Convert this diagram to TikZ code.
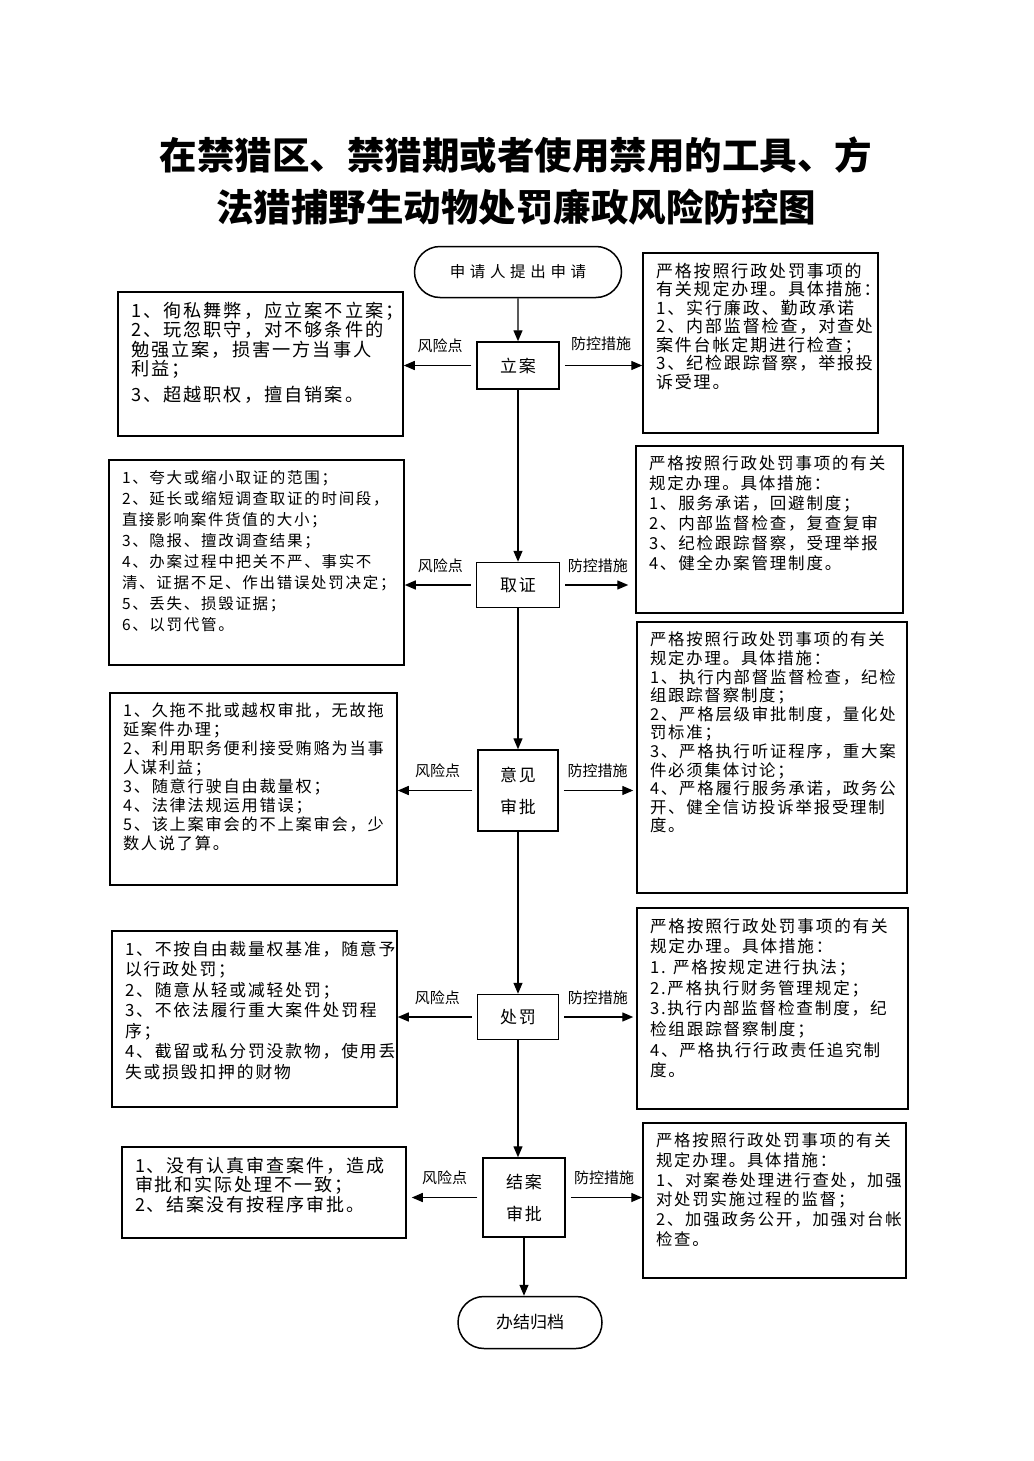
\documentclass[tikz,border=0pt]{standalone}
\usepackage{fontspec}
\newfontfamily\cjk{Noto Sans CJK SC}
\newfontfamily\cjkls[LetterSpace=11]{Noto Sans CJK SC}
\newfontfamily\cjkwide[LetterSpace=30]{Noto Sans CJK SC}
\usetikzlibrary{shapes.misc, arrows.meta, positioning}
\newcommand{\boxtext}[3]{\parbox[t][#2][t]{#1}{#3}}

\begin{document}
\begin{tikzpicture}[x=1pt, y=-1pt, >={Triangle[length=11pt,width=9pt]},
  flowbox/.style={draw, line width=1.5pt, inner sep=0pt, align=center, font=\cjkls\fontsize{17}{32}\selectfont},
  terminal/.style={flowbox, rounded rectangle},
  sidebox/.style={draw, line width=1.5pt, inner xsep=13pt, inner ysep=10pt, font=\cjkls},
  link/.style={->, line width=1.4pt},
  tag/.style={inner sep=0pt, font=\cjk\fontsize{15}{15}\selectfont}]
\useasboundingbox (0,0) rectangle (1033,1461);

% title
\node [align=center, font=\cjk\bfseries\fontsize{37.5}{52}\selectfont] (title) at (516,181)
  {在禁猎区、禁猎期或者使用禁用的工具、方\\法猎捕野生动物处罚廉政风险防控图};

% main flow
\node [terminal, minimum width=207, minimum height=51, font=\cjkwide\fontsize{15.5}{20}\selectfont] (start) at (518,272) {申请人提出申请};
\node [flowbox, minimum width=82, minimum height=47, below=43pt of start] (lian) {立案};
\node [flowbox, minimum width=83, minimum height=45, below=172pt of lian] (quzheng) {取证};
\node [flowbox, minimum width=80, minimum height=81, below=141pt of quzheng] (yijian) {意见\\审批};
\node [flowbox, minimum width=81, minimum height=45, below=162pt of yijian] (chufa) {处罚};
\node [flowbox, minimum width=82, minimum height=79, below=117pt of chufa, xshift=6pt] (jiean) {结案\\审批};
\node [terminal, minimum width=144, minimum height=52, below=58pt of jiean, xshift=6pt, font=\cjk\fontsize{17}{20}\selectfont] (archive) {办结归档};

\draw [link] (start) -- (lian);
\draw [link] (lian) -- (quzheng);
\draw [link] (quzheng) -- (yijian);
\draw [link] (yijian) -- (chufa);
\draw [link] (chufa.south) -- (chufa.south |- jiean.north);
\draw [link] (jiean.south) -- (jiean.south |- archive.north);

% risk points
\node [sidebox] (risk1) at (260.5,364) {\boxtext{259pt}{124pt}{\fontsize{18.2}{19.5}\selectfont
1、徇私舞弊，应立案不立案；\\
2、玩忽职守，对不够条件的\\
勉强立案，损害一方当事人\\
利益；\\[6pt]
3、超越职权，擅自销案。}};

\node [sidebox] (risk2) at (256.5,562.5) {\boxtext{269pt}{185pt}{\fontsize{15.5}{21}\selectfont
1、夸大或缩小取证的范围；\\
2、延长或缩短调查取证的时间段，\\
直接影响案件货值的大小；\\
3、隐报、擅改调查结果；\\
4、办案过程中把关不严、事实不\\
清、证据不足、作出错误处罚决定；\\
5、丢失、损毁证据；\\
6、以罚代管。}};

\node [sidebox] (risk3) at (253.5,789) {\boxtext{261pt}{172pt}{\fontsize{16.2}{19}\selectfont
1、久拖不批或越权审批，无故拖\\
延案件办理；\\
2、利用职务便利接受贿赂为当事\\
人谋利益；\\
3、随意行驶自由裁量权；\\
4、法律法规运用错误；\\
5、该上案审会的不上案审会，少\\
数人说了算。}};

\node [sidebox] (risk4) at (254.5,1019) {\boxtext{259pt}{156pt}{\fontsize{16.8}{20.5}\selectfont
1、不按自由裁量权基准，随意予\\
以行政处罚；\\
2、随意从轻或减轻处罚；\\
3、不依法履行重大案件处罚程\\
序；\\
4、截留或私分罚没款物，使用丢\\
失或损毁扣押的财物}};

\node [sidebox] (risk5) at (264,1192.5) {\boxtext{258pt}{71pt}{\fontsize{18}{19.7}\selectfont
1、没有认真审查案件，造成\\
审批和实际处理不一致；\\
2、结案没有按程序审批。}};

% control measures
\node [sidebox] (ctrl1) at (760.5,343) {\boxtext{209pt}{160pt}{\fontsize{17}{18.5}\selectfont
严格按照行政处罚事项的\\
有关规定办理。具体措施：\\
1、实行廉政、勤政承诺\\
2、内部监督检查，对查处\\
案件台帐定期进行检查；\\
3、纪检跟踪督察，举报投\\
诉受理。}};

\node [sidebox] (ctrl2) at (769.5,529.5) {\boxtext{241pt}{147pt}{\fontsize{16.5}{20}\selectfont
严格按照行政处罚事项的有关\\
规定办理。具体措施：\\
1、服务承诺，回避制度；\\
2、内部监督检查，复查复审\\
3、纪检跟踪督察，受理举报\\
4、健全办案管理制度。}};

\node [sidebox] (ctrl3) at (772,757.5) {\boxtext{244pt}{251pt}{\fontsize{16.4}{18.6}\selectfont
严格按照行政处罚事项的有关\\
规定办理。具体措施：\\
1、执行内部督监督检查，纪检\\
组跟踪督察制度；\\
2、严格层级审批制度，量化处\\
罚标准；\\
3、严格执行听证程序，重大案\\
件必须集体讨论；\\
4、严格履行服务承诺，政务公\\
开、健全信访投诉举报受理制\\
度。}};

\node [sidebox] (ctrl4) at (772.5,1008.5) {\boxtext{245pt}{181pt}{\fontsize{16.6}{20.7}\selectfont
严格按照行政处罚事项的有关\\
规定办理。具体措施：\\
1. 严格按规定进行执法；\\
2.严格执行财务管理规定；\\
3.执行内部监督检查制度，纪\\
检组跟踪督察制度；\\
4、严格执行行政责任追究制\\
度。}};

\node [sidebox] (ctrl5) at (774.5,1200.5) {\boxtext{237pt}{135pt}{\fontsize{16.4}{19.7}\selectfont
严格按照行政处罚事项的有关\\
规定办理。具体措施：\\
1、对案卷处理进行查处，加强\\
对处罚实施过程的监督；\\
2、加强政务公开，加强对台帐\\
检查。}};

% side arrows
\draw [link, shorten <=5pt] (lian.west) -- (lian.west -| risk1.east) node [tag, midway, above=12pt] (tagr1) {风险点};
\draw [link, shorten <=5pt] (lian.east) -- (lian.east -| ctrl1.west) node [tag, midway, above=14pt] (tagc1) {防控措施};
\draw [link, shorten <=5pt] (quzheng.west) -- (quzheng.west -| risk2.east) node [tag, midway, above=12pt] (tagr2) {风险点};
\draw [link, shorten <=5pt, shorten >=7pt] (quzheng.east) -- (quzheng.east -| ctrl2.west) node [tag, midway, above=12pt] (tagc2) {防控措施};
\draw [link, shorten <=5pt] (yijian.west) -- (yijian.west -| risk3.east) node [tag, midway, above=12pt] (tagr3) {风险点};
\draw [link, shorten <=5pt, shorten >=3pt] (yijian.east) -- (yijian.east -| ctrl3.west) node [tag, midway, above=12pt] (tagc3) {防控措施};
\draw [link, shorten <=5pt] (chufa.west) -- (chufa.west -| risk4.east) node [tag, midway, above=12pt] (tagr4) {风险点};
\draw [link, shorten <=5pt, shorten >=3pt] (chufa.east) -- (chufa.east -| ctrl4.west) node [tag, midway, above=12pt] (tagc4) {防控措施};
\draw [link, shorten <=5pt, shorten >=5pt] (jiean.west) -- (jiean.west -| risk5.east) node [tag, midway, above=12pt] (tagr5) {风险点};
\draw [link, shorten <=5pt] (jiean.east) -- (jiean.east -| ctrl5.west) node [tag, midway, above=12pt] (tagc5) {防控措施};

\end{tikzpicture}
\end{document}
